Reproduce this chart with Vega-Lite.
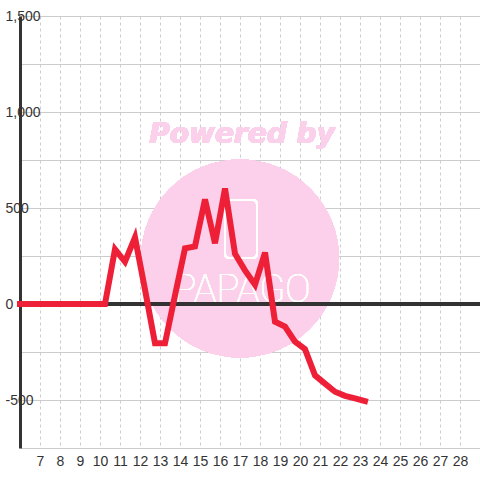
{
  "$schema": "https://vega.github.io/schema/vega-lite/v6.json",
  "width": 460,
  "height": 432,
  "autosize": {"type": "none"},
  "padding": {"left": 20, "top": 16, "right": 0, "bottom": 32},
  "background": "white",
  "config": {"view": {"stroke": null}, "font": "Liberation Sans", "axis": {"labelOverlap": false, "labelFlush": false, "labelBound": false}},
  "data": {"values": [
    {"x": 6.0, "y": 0},
    {"x": 6.25, "y": 0},
    {"x": 6.75, "y": 0},
    {"x": 7.25, "y": 0},
    {"x": 7.75, "y": 0},
    {"x": 8.25, "y": 0},
    {"x": 8.75, "y": 0},
    {"x": 9.25, "y": 0},
    {"x": 9.75, "y": 0},
    {"x": 10.25, "y": 0},
    {"x": 10.75, "y": 285},
    {"x": 11.25, "y": 220},
    {"x": 11.75, "y": 347},
    {"x": 12.25, "y": 75},
    {"x": 12.75, "y": -205},
    {"x": 13.25, "y": -205},
    {"x": 13.75, "y": 45},
    {"x": 14.25, "y": 290},
    {"x": 14.75, "y": 300},
    {"x": 15.25, "y": 545},
    {"x": 15.75, "y": 316},
    {"x": 16.25, "y": 602},
    {"x": 16.75, "y": 262},
    {"x": 17.25, "y": 175},
    {"x": 17.75, "y": 100},
    {"x": 18.25, "y": 268},
    {"x": 18.75, "y": -92},
    {"x": 19.25, "y": -118},
    {"x": 19.75, "y": -196},
    {"x": 20.25, "y": -235},
    {"x": 20.75, "y": -372},
    {"x": 21.25, "y": -415},
    {"x": 21.75, "y": -457},
    {"x": 22.25, "y": -478},
    {"x": 22.75, "y": -492},
    {"x": 23.25, "y": -506}
  ]},
  "layer": [
    {
      "mark": {"type": "point", "shape": "circle", "filled": true, "fill": "#fbd0ea", "opacity": 0.85, "size": 39204, "strokeWidth": 0},
      "encoding": {
        "x": {"datum": 17, "type": "quantitative", "title": null},
        "y": {"datum": 237, "type": "quantitative", "title": null}
      }
    },
    {
      "mark": {"type": "rect", "fill": null, "stroke": "white", "strokeWidth": 2, "cornerRadius": 4, "opacity": 0.9},
      "encoding": {
        "x": {"datum": 16.25, "type": "quantitative", "title": null},
        "x2": {"datum": 17.85},
        "y": {"datum": 542, "type": "quantitative", "title": null},
        "y2": {"datum": 240}
      }
    },
    {
      "mark": {"type": "text", "text": "PAPAGO", "font": "Roboto", "fontSize": 38, "fontWeight": 100, "fill": "white", "opacity": 0.9, "baseline": "alphabetic", "align": "center"},
      "encoding": {
        "x": {"datum": 17.1, "type": "quantitative", "title": null},
        "y": {"datum": 10, "type": "quantitative", "title": null}
      }
    },
    {
      "mark": {"type": "text", "text": "Powered by", "font": "DejaVu Sans", "fontSize": 28, "fontWeight": "bold", "fontStyle": "italic", "fill": "#fbd0ea", "opacity": 0.85, "baseline": "alphabetic", "align": "center"},
      "encoding": {
        "x": {"datum": 17.1, "type": "quantitative", "title": null},
        "y": {"datum": 838, "type": "quantitative", "title": null}
      }
    },
    {
      "mark": {"type": "rule", "color": "#333333", "strokeWidth": 3},
      "encoding": {
        "y": {"datum": 0, "type": "quantitative", "title": null}
      }
    },
    {
      "mark": {"type": "line", "color": "#ee2038", "strokeWidth": 6, "strokeCap": "square", "strokeJoin": "miter"},
      "encoding": {
        "x": {
          "field": "x", "type": "quantitative", "title": null,
          "scale": {"domain": [6, 29], "nice": false, "zero": false},
          "axis": {
            "orient": "bottom", "domain": false, "ticks": false, "tickCount": 22, "format": "d",
            "values": [7,8,9,10,11,12,13,14,15,16,17,18,19,20,21,22,23,24,25,26,27,28],
            "grid": true, "gridColor": "#cccccc", "gridDash": [3, 3], "gridWidth": 1,
            "labelPadding": 6, "labelFontSize": 14, "labelColor": "#333333", "labelFont": "Liberation Sans",
            "labelFlush": false, "labelOverlap": false, "labelBound": false
          }
        },
        "y": {
          "field": "y", "type": "quantitative", "title": null,
          "scale": {"domain": [-750, 1500], "nice": false, "zero": false},
          "axis": {
            "orient": "left", "domain": true, "domainColor": "#333333", "domainWidth": 3, "ticks": false, "tickCount": 10,
            "values": [-750, -500, -250, 0, 250, 500, 750, 1000, 1250, 1500],
            "grid": true, "gridColor": "#cccccc", "gridWidth": 1,
            "labelAlign": "left", "labelPadding": 15, "labelBaseline": "middle",
            "labelExpr": "datum.value % 500 == 0 ? replace(format(datum.value, ','), '\u2212', '-') : ''",
            "labelFontSize": 14, "labelColor": "#333333", "labelFont": "Liberation Sans",
            "labelFlush": false, "labelOverlap": false, "labelBound": false
          }
        }
      }
    }
  ]
}
